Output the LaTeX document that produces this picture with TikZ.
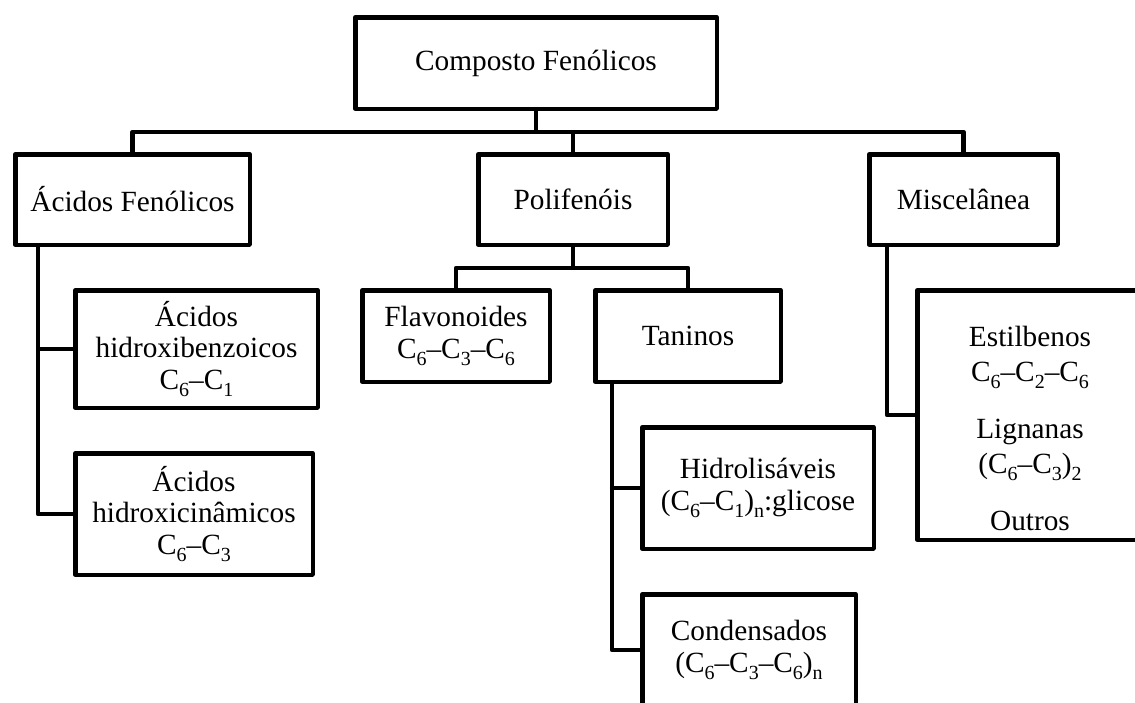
\documentclass[tikz,border=0pt]{standalone}
\usepackage{fontspec}
\setmainfont{Liberation Serif}
\usetikzlibrary{calc}
\newcommand\subn[1]{\raisebox{-7pt}{\fontsize{20}{20}\selectfont #1}}
\begin{document}
\begin{tikzpicture}[x=1pt,y=-1pt,
  box/.style={draw, line width=4.5pt, line join=round, inner sep=0pt, align=center,
    font=\fontsize{29.3}{31.5}\selectfont},
  conn/.style={line width=4.5pt, line join=round}]
\useasboundingbox (0,0) rectangle (1135,702);
\clip (0,0) rectangle (1135,702);
% level 0
\node[box, minimum width=361.5, minimum height=91.5] (top) at (536,63) {Composto Fenólicos};
% level 1
\node[box, minimum width=234.5, minimum height=90.5] (af) at (132.5,199.5) {Ácidos Fenólicos};
\node[box, minimum width=189.5, minimum height=90.5] (pf) at (573,199.5) {Polifenóis};
\node[box, minimum width=188.5, minimum height=90.5] (mi) at (963.5,199.5) {Miscelânea};
% acids
\node[box, minimum width=242.5, minimum height=117.5] (ah1) at (196.5,349) {Ácidos\\hidroxibenzoicos\\C\subn{6}--C\subn{1}};
\node[box, minimum width=237.5, minimum height=121.5] (ah2) at (194,514) {Ácidos\\hidroxicinâmicos\\C\subn{6}--C\subn{3}};
% polifenois
\node[box, minimum width=187.5, minimum height=91.5] (fl) at (456,336) {Flavonoides\\C\subn{6}--C\subn{3}--C\subn{6}};
\node[box, minimum width=185.5, minimum height=91.5] (ta) at (688,336) {Taninos};
\node[box, minimum width=231.5, minimum height=121.5] (hi) at (758,488) {Hidrolisáveis\\(C\subn{6}--C\subn{1})\subn{n}:glicose};
\node[box, minimum width=213.5, minimum height=111.5] (co) at (749,650) {Condensados\\(C\subn{6}--C\subn{3}--C\subn{6})\subn{n}};
% miscelanea
\node[box, minimum width=225.5, minimum height=249.5] (ms) at (1030,415) {};
\node[align=center, inner sep=0pt, font=\fontsize{29.3}{35}\selectfont] (mstext) at (1030,428)
  {Estilbenos\\C\subn{6}--C\subn{2}--C\subn{6}\\[22pt]Lignanas\\(C\subn{6}--C\subn{3})\subn{2}\\[22pt]Outros};
% connectors
\coordinate (bar) at (0,132);
\draw[conn] (top.south) -- (top.south |- bar);
\draw[conn] (af.north) -- (af.north |- bar) -- (mi.north |- bar) -- (mi.north);
\draw[conn] (pf.north) -- (pf.north |- bar);
\coordinate (afv) at ($(af.south west)+(25,0)$);
\draw[conn] (afv) |- (ah2.west);
\draw[conn] (afv |- ah1.west) -- (ah1.west);
\coordinate (pb) at ($(pf.south)+(0,21)$);
\draw[conn] (pf.south) -- (pb);
\draw[conn] (fl.north) -- (fl.north |- pb) -- (ta.north |- pb) -- (ta.north);
\coordinate (tv) at ($(ta.south west)+(19,0)$);
\draw[conn] (tv) |- (co.west);
\draw[conn] (tv |- hi.west) -- (hi.west);
\coordinate (mv) at ($(mi.south west)+(20,0)$);
\draw[conn] (mv) |- (ms.west);
\end{tikzpicture}
\end{document}
